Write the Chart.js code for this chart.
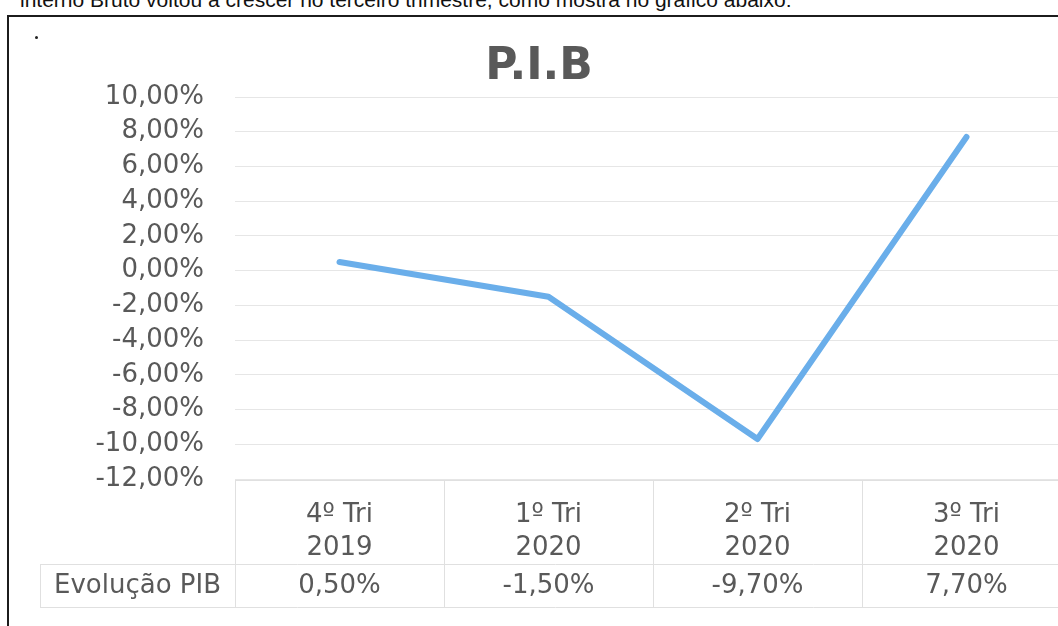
<!DOCTYPE html>
<html lang="pt">
<head>
<meta charset="utf-8">
<title>P.I.B</title>
<script src="https://cdn.jsdelivr.net/npm/chart.js@4/dist/chart.umd.min.js"></script>
<style>
  html, body { margin: 0; padding: 0; background: #fff; }
  body { width: 1058px; height: 626px; overflow: hidden; position: relative; }
  .intro {
    position: absolute; left: 20px; top: -12px;
    font: 21px "Liberation Sans", Arial, sans-serif; color: #111; white-space: nowrap;
  }
  .frame {
    position: absolute; left: 7px; top: 15px; width: 1100px; height: 700px;
    border-left: 2px solid #1c1c1c; border-top: 2px solid #1c1c1c;
  }
  .dot { position: absolute; left: 35px; top: 36px; width: 3px; height: 3px; background: #222; border-radius: 50%; }
  #pib { position: absolute; left: 7px; top: 0; }
</style>
</head>
<body>
<div class="intro">interno Bruto voltou a crescer no terceiro trimestre, como mostra no gráfico abaixo:</div>
<div class="frame"></div>
<div class="dot"></div>
<canvas id="pib" width="1064" height="626"></canvas>

<script>
// dados do gráfico
const categories = [['4º Tri', '2019'], ['1º Tri', '2020'], ['2º Tri', '2020'], ['3º Tri', '2020']];
const evolucaoPib = [0.5, -1.5, -9.7, 7.7];
const seriesName = 'Evolução PIB';
const chartTitle = 'P.I.B';
const yMin = -12;
const yMax = 10;
const yStep = 2;

const textColor = '#595959';
const lineColor = '#6aaeea';
const gridColor = '#e6e6e6';
const tableColor = '#e0e0e0';
const font = '"DejaVu Sans", "Open Sans", sans-serif';

function pct(v) {
    return v.toFixed(2).replace('.', ',') + '%';
}

// desenha a tabela de dados por baixo do eixo x
const dataTablePlugin = {
    id: 'dataTable',
    afterDraw: (chart) => {
        const c = chart.ctx;
        const { left, right, bottom } = chart.chartArea;
        const x = chart.scales.x;
        const colW = (right - left) / categories.length;
        const sepY = bottom + 85;
        const endY = bottom + 128;
        const labelLeft = 33;

        c.save();
        c.strokeStyle = tableColor;
        c.lineWidth = 1;
        c.beginPath();
        c.moveTo(left, bottom + 1.5);
        c.lineTo(right, bottom + 1.5);
        c.moveTo(labelLeft, sepY + 0.5);
        c.lineTo(right, sepY + 0.5);
        c.moveTo(labelLeft, endY + 0.5);
        c.lineTo(right, endY + 0.5);
        for (let i = 0; i <= categories.length; i++) {
            const px = Math.round(left + i * colW) + 0.5;
            c.moveTo(px, bottom + 1);
            c.lineTo(px, endY);
        }
        c.moveTo(labelLeft + 0.5, sepY);
        c.lineTo(labelLeft + 0.5, endY);
        c.stroke();

        c.fillStyle = textColor;
        c.font = '26px ' + font;
        c.textAlign = 'center';
        c.textBaseline = 'middle';
        const rowY = (sepY + endY) / 2 + 1;
        c.fillText(seriesName, (labelLeft + left) / 2, rowY);
        evolucaoPib.forEach((v, i) => {
            c.fillText(pct(v), x.getPixelForValue(i), rowY);
        });
        c.restore();
    }
};

new Chart(document.getElementById('pib'), {
    type: 'line',
    data: {
        labels: categories,
        datasets: [{
            label: seriesName,
            data: evolucaoPib,
            borderColor: lineColor,
            borderWidth: 6,
            borderJoinStyle: 'round',
            borderCapStyle: 'round',
            pointRadius: 0,
            tension: 0,
            fill: false
        }]
    },
    plugins: [dataTablePlugin],
    options: {
        responsive: false,
        animation: false,
        layout: {
            padding: { top: 46, left: 0, right: 0, bottom: 0 }
        },
        plugins: {
            legend: { display: false },
            tooltip: { enabled: false },
            title: {
                display: true,
                text: chartTitle,
                color: textColor,
                font: { family: font, size: 44, weight: 'bold', lineHeight: 1 },
                padding: { top: 0, bottom: 7 }
            }
        },
        scales: {
            x: {
                offset: true,
                grid: { display: false },
                border: { display: false },
                ticks: {
                    color: textColor,
                    font: { family: font, size: 26, lineHeight: 1.3 },
                    padding: 11,
                    maxRotation: 0,
                    autoSkip: false
                },
                afterFit: (scale) => { scale.height = 147; }
            },
            y: {
                min: yMin,
                max: yMax,
                grid: { color: gridColor, drawTicks: false },
                border: { display: false },
                ticks: {
                    stepSize: yStep,
                    color: textColor,
                    font: { family: font, size: 26 },
                    padding: 31,
                    callback: (value) => pct(value)
                },
                afterFit: (scale) => { scale.width = 228; }
            }
        }
    }
});
</script>
</body>
</html>
